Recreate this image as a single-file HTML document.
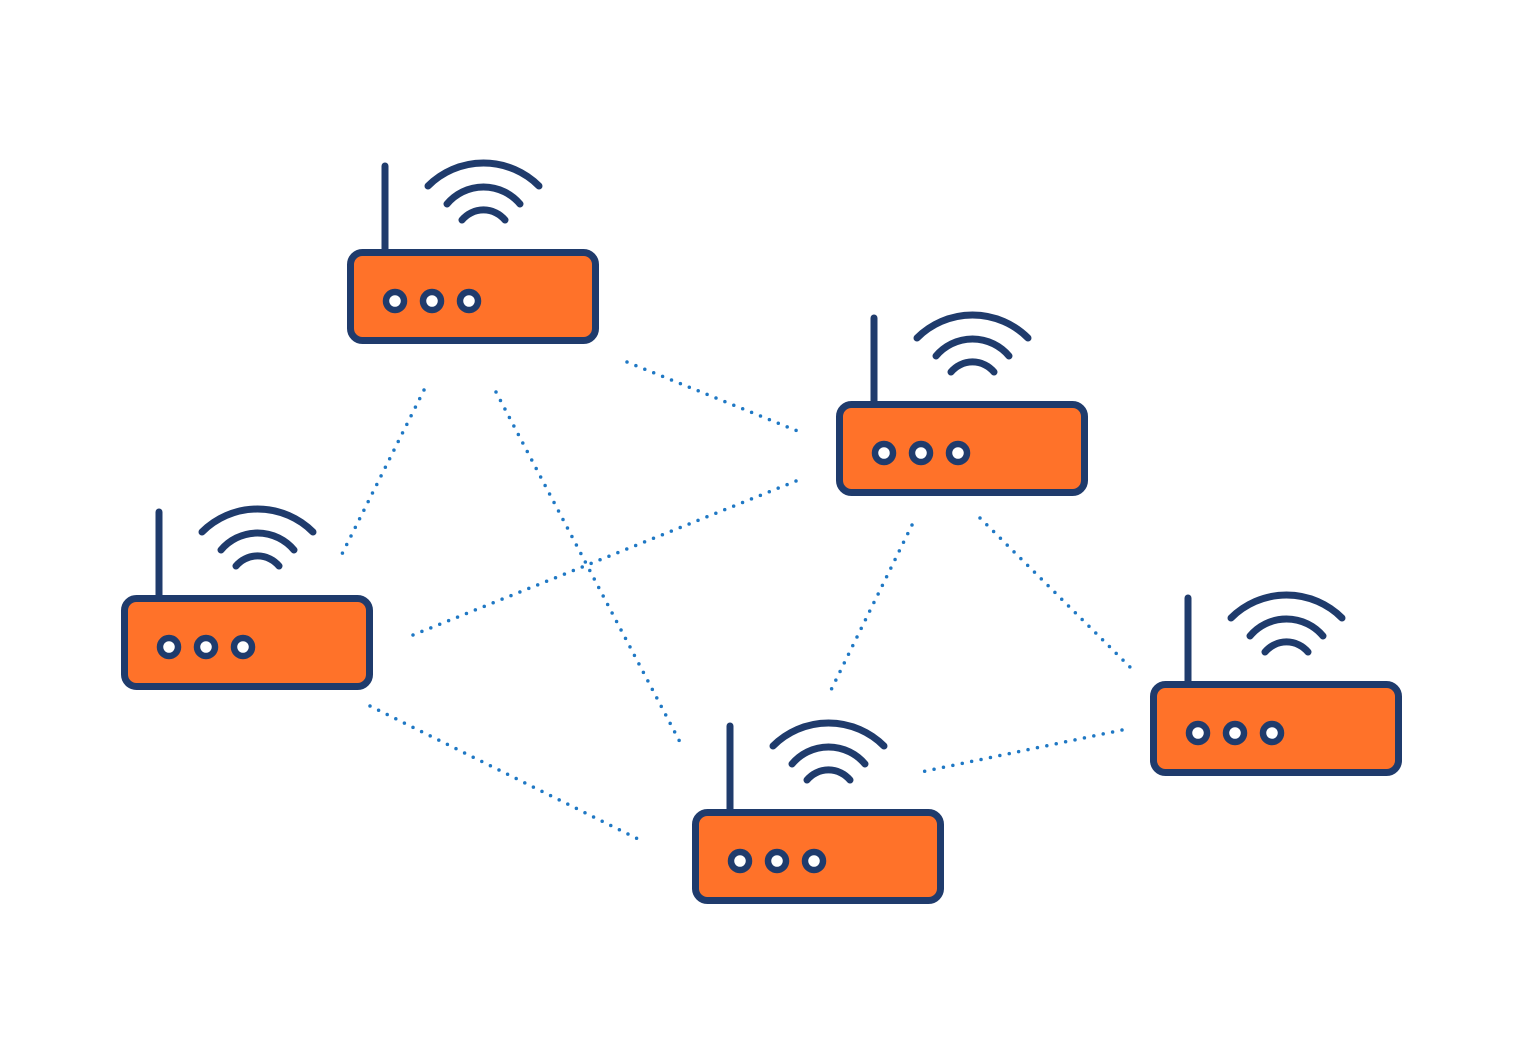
<!DOCTYPE html>
<html><head><style>html,body{margin:0;padding:0;background:#fff}svg{display:block}</style></head>
<body>
<svg width="1524" height="1052" viewBox="0 0 1524 1052" xmlns="http://www.w3.org/2000/svg">
<defs>
<g id="r" fill="none" stroke="#1f3b6c" stroke-width="7" stroke-linecap="round">
  <line x1="385" y1="166" x2="385" y2="252"/>
  <rect x="350.5" y="252.5" width="245" height="88" rx="12" fill="#ff7229"/>
  <circle cx="395" cy="301" r="9" fill="#fff" stroke-width="6.5"/>
  <circle cx="432" cy="301" r="9" fill="#fff" stroke-width="6.5"/>
  <circle cx="469" cy="301" r="9" fill="#fff" stroke-width="6.5"/>
  <path d="M428 186 A78.5 78.5 0 0 1 539 186"/>
  <path d="M447 204 A47.7 47.7 0 0 1 520 204"/>
  <path d="M462 220 A28 28 0 0 1 505 220"/>
</g>
</defs>
<g stroke="#1f78c4" stroke-width="3.5" stroke-linecap="round" stroke-dasharray="0 9.6" fill="none">
  <line x1="627" y1="362" x2="800" y2="432"/>
  <line x1="424" y1="390" x2="341" y2="556"/>
  <line x1="496" y1="392" x2="681" y2="744"/>
  <line x1="796" y1="481" x2="408" y2="637"/>
  <line x1="912" y1="525" x2="830" y2="692"/>
  <line x1="980" y1="518" x2="1133" y2="670"/>
  <line x1="370" y1="706" x2="644" y2="842"/>
  <line x1="1122" y1="730" x2="921" y2="772"/>
</g>
<use href="#r"/>
<use href="#r" transform="translate(489,152)"/>
<use href="#r" transform="translate(-226,346)"/>
<use href="#r" transform="translate(345,560)"/>
<use href="#r" transform="translate(803,432)"/>
</svg>
</body></html>
